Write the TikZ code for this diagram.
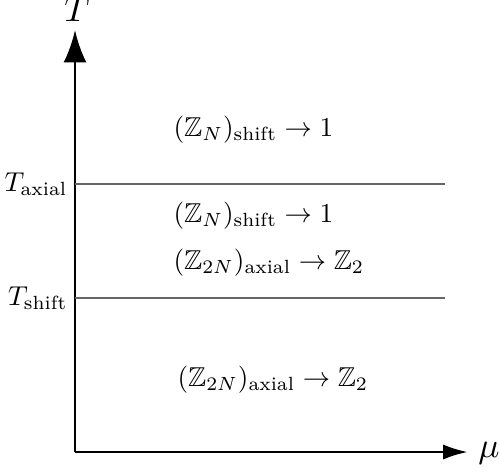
\documentclass[tikz,border=0pt]{standalone}
\usepackage{amsmath,amssymb}
\usetikzlibrary{arrows.meta}
\begin{document}
\begin{tikzpicture}[x=0.341pt,y=-0.341pt,
  axis/.style={line width=1pt},
  level/.style={draw=black!60,line width=0.4pt},
  lab/.style={inner sep=0pt,anchor=west,scale=0.93},
  big/.style={inner sep=0pt,scale=1.2}]
\useasboundingbox (0,0) rectangle (499,471);
\coordinate (O) at (75,452);
\coordinate (Ytip) at (75,30);
\coordinate (Xtip) at (468,452);
\draw[axis,-{Latex[length=11pt,width=7.8pt]}] (O) -- (Ytip);
\draw[axis,-{Latex[length=8.5pt,width=5.2pt]}] (O) -- (Xtip);
\node[big] (T) at (77,9) {$T$};
\node[big] (mu) at (489,453) {$\mu$};
\coordinate (a1) at (75,184); \coordinate (a2) at (445,184);
\coordinate (s1) at (75,298); \coordinate (s2) at (445,298);
\draw[level] (a1) -- (a2);
\draw[level] (s1) -- (s2);
\node[anchor=east,inner sep=0pt,scale=0.93] (Ta) at (68,184) {$T_{\text{axial}}$};
\node[anchor=east,inner sep=0pt,scale=0.93] (Ts) at (68,298) {$T_{\text{shift}}$};
\node[lab] (l1) at (173,130) {$(\mathbb{Z}_N)_{\text{shift}} \to 1$};
\node[lab] (l2) at (173,216) {$(\mathbb{Z}_N)_{\text{shift}} \to 1$};
\node[lab] (l3) at (173,263) {$(\mathbb{Z}_{2N})_{\text{axial}} \to \mathbb{Z}_2$};
\node[lab] (l4) at (177,380) {$(\mathbb{Z}_{2N})_{\text{axial}} \to \mathbb{Z}_2$};
\end{tikzpicture}
\end{document}
